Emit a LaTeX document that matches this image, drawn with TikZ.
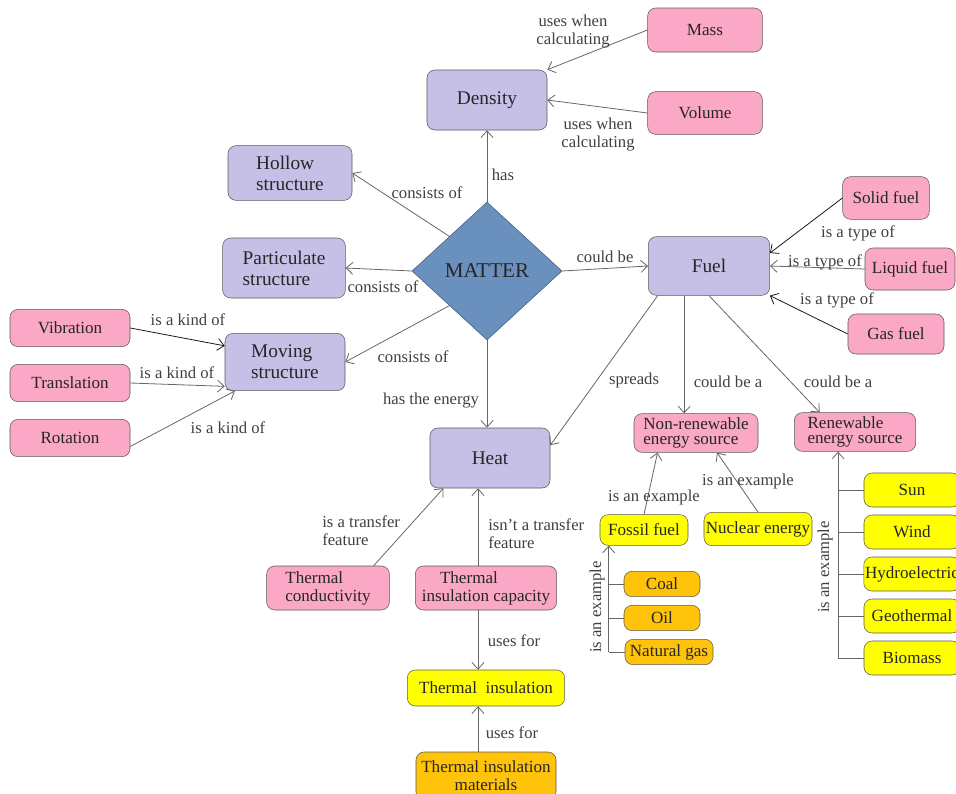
\documentclass[tikz,border=0pt]{standalone}
\usepackage{fontspec}
\setmainfont{Liberation Serif}
\usepackage{xcolor}
\usepackage{tikz}
\usetikzlibrary{arrows.meta,positioning,calc,shapes.geometric}

\definecolor{lavfill}{RGB}{198,192,230}
\definecolor{pinkfill}{RGB}{250,168,198}
\definecolor{yelfill}{RGB}{255,255,0}
\definecolor{orfill}{RGB}{255,195,10}
\definecolor{matfill}{RGB}{106,144,190}
\definecolor{matline}{RGB}{62,90,130}

\begin{document}
\begin{tikzpicture}[x=0.75pt,y=-0.75pt,>={Straight Barb[length=5pt,width=9pt]},
  box/.style={draw=black!65,rounded corners=6pt,text=black!85,inner sep=1pt,
              font=\fontsize{12.8}{13.5}\selectfont},
  lavbox/.style={box,fill=lavfill,font=\fontsize{14.5}{15.75}\selectfont},
  pinkbox/.style={box,fill=pinkfill},
  yelbox/.style={box,fill=yelfill},
  orbox/.style={box,fill=orfill},
  lbl/.style={text=black!75,inner sep=0pt,font=\fontsize{12.5}{13.5}\selectfont},
  link/.style={->,draw=black!60,line width=0.6pt},
  dlink/.style={->,draw=black!90,line width=0.6pt},
  stem/.style={draw=black!60,line width=0.6pt}]
  \useasboundingbox (0,0) rectangle (956,793);
  \clip (0,0) rectangle (956,793);

  % main concept
  \node[diamond,aspect=1.087,draw=matline,fill=matfill,inner sep=0pt,
        minimum width=112.5pt,minimum height=103.5pt,text=black!85,
        font=\fontsize{15.8}{16}\selectfont] (matter) at (487,271) {MATTER};

  \node[lavbox,minimum width=90pt,minimum height=45pt] (dens) at (487,100) {Density};
  \node[pinkbox,minimum width=86pt,minimum height=33pt] (mass) at (705,30) {Mass};
  \node[pinkbox,minimum width=86pt,minimum height=32pt] (volume) at (705,113) {Volume};
  \node[lavbox,align=left,minimum width=93pt,minimum height=41pt] (hollow) at (290,173) {Hollow\\structure};
  \node[lavbox,align=left,minimum width=92pt,minimum height=45pt] (part) at (284,268) {Particulate\\structure};
  \node[lavbox,align=left,minimum width=90pt,minimum height=43pt] (moving) at (285,362) {Moving\\structure};
  \node[lavbox,minimum width=91pt,minimum height=44pt] (fuel) at (709,266) {Fuel};
  \node[lavbox,minimum width=90pt,minimum height=45pt] (heat) at (490,458) {Heat};

  \node[pinkbox,minimum width=65pt,minimum height=32pt] (solid) at (886,198) {Solid fuel};
  \node[pinkbox,minimum width=67.5pt,minimum height=31.5pt] (liquid) at (910,269) {Liquid fuel};
  \node[pinkbox,minimum width=72pt,minimum height=30pt] (gas) at (896,334) {Gas fuel};

  \node[pinkbox,minimum width=90pt,minimum height=28pt] (vib) at (70,328) {Vibration};
  \node[pinkbox,minimum width=90pt,minimum height=28pt] (trans) at (70,383) {Translation};
  \node[pinkbox,minimum width=90pt,minimum height=28pt] (rot) at (70,438) {Rotation};

  \node[pinkbox,align=left,minimum width=93pt,minimum height=29pt,
        font=\fontsize{12.8}{11.25}\selectfont] (nonren) at (696,433) {Non-renewable\\energy source};
  \node[pinkbox,align=left,minimum width=91pt,minimum height=29pt,
        font=\fontsize{12.8}{11.25}\selectfont] (ren) at (855,432) {Renewable\\energy source};

  \node[yelbox,minimum width=66pt,minimum height=23pt] (fossil) at (644,530) {Fossil fuel};
  \node[yelbox,minimum width=81pt,minimum height=25pt] (nuclear) at (758,529) {Nuclear energy};
  \node[orbox,minimum width=57pt,minimum height=19pt] (coal) at (662,584) {Coal};
  \node[orbox,minimum width=57pt,minimum height=19pt] (oil) at (662,618) {Oil};
  \node[orbox,minimum width=66pt,minimum height=19pt] (ngas) at (669,652) {Natural gas};

  \node[yelbox,minimum width=72pt,minimum height=25.5pt] (sun) at (912,490) {Sun};
  \node[yelbox,minimum width=72pt,minimum height=25.5pt] (wind) at (912,532) {Wind};
  \node[yelbox,minimum width=72pt,minimum height=25.5pt] (hydro) at (912,574) {Hydroelectric};
  \node[yelbox,minimum width=72pt,minimum height=25.5pt] (geo) at (912,616) {Geothermal};
  \node[yelbox,minimum width=72pt,minimum height=25.5pt] (bio) at (912,658) {Biomass};

  \node[pinkbox,align=left,minimum width=92pt,minimum height=33pt] (tc) at (328,588) {Thermal\\conductivity};
  \node[pinkbox,align=center,minimum width=106pt,minimum height=33pt] (tic) at (486,588) {Thermal\hspace*{2em}\\insulation capacity};
  \node[yelbox,minimum width=118pt,minimum height=27pt] (ti) at (486,688) {Thermal\ \ insulation};
  \node[orbox,align=center,minimum width=105pt,minimum height=36pt] (tim) at (486,776) {Thermal insulation\\materials};

  % connectors
  \draw[link] (mass.west) -- (dens.north east);
  \draw[link] (volume.west) -- (dens.east);
  \draw[link] (matter.north) -- (dens.south);
  \draw[link] (matter.north west) -- (hollow.east);
  \draw[link] (matter.west) -- (part.east);
  \draw[link] (matter.south west) -- (moving.east);
  \draw[link] (matter.south) -- (matter.south |- heat.north);
  \draw[link] (matter.east) -- (fuel.west);

  \draw[dlink] (solid.west) -- (fuel.12);
  \draw[link] (liquid.west) -- (fuel.east);
  \draw[dlink] (gas.west) -- (fuel.south east);

  \draw[dlink] (vib.east) -- (moving.165);
  \draw[link] (trans.east) -- (moving.202);
  \draw[link] (rot.-8) -- (moving.210);

  \draw[link] (fuel.210) -- (heat.12);
  \draw[link] (fuel.230) -- (fuel.230 |- nonren.north);
  \draw[link] (fuel.south) -- (ren.151);

  \draw[link] (fossil.north) -- (nonren.207);
  \draw[link] (nuclear.north) -- (nonren.-43);

  \coordinate (fosjoin) at ($(fossil.south west)+(9,0)$);
  \draw[link] (ngas.west -| fosjoin) -- (fosjoin);
  \foreach \n in {coal,oil,ngas}
    \draw[stem] (\n.west) -- (\n.west -| fosjoin);

  \coordinate (renjoin) at ($(ren.south west)+(44,0)$);
  \draw[link] (bio.west -| renjoin) -- (renjoin);
  \foreach \n in {sun,wind,hydro,geo,bio}
    \draw[stem] (\n.west) -- (\n.west -| renjoin);

  \coordinate (tix) at (478,0);
  \draw[link] (tc.26) -- (heat.213);
  \draw[link] (tix |- tic.north) -- (tix |- heat.south);
  \draw[link] (tix |- tic.south) -- (tix |- ti.north);
  \draw[link] (tix |- tim.north) -- (tix |- ti.south);

  % connector labels
  \node[lbl,align=center] (lmass) at (573,32) {uses when\\calculating};
  \node[lbl,align=center] (lvol) at (598,135) {uses when\\calculating};
  \node[lbl] (lhas) at (503,175) {has};
  \node[lbl] (lhol) at (427,193) {consists of};
  \node[lbl] (lpart) at (383,287) {consists of};
  \node[lbl] (lmov) at (413,357) {consists of};
  \node[lbl] (lenergy) at (431,401) {has the energy};
  \node[lbl] (lcould) at (605,257) {could be};
  \node[lbl] (lsolid) at (858,233) {is a type of};
  \node[lbl] (lliquid) at (825,262) {is a type of};
  \node[lbl] (lgas) at (837,300) {is a type of};
  \node[lbl] (lvib) at (188,320) {is a kind of};
  \node[lbl] (ltrans) at (177,373) {is a kind of};
  \node[lbl] (lrot) at (228,428) {is a kind of};
  \node[lbl] (lspread) at (634,380) {spreads};
  \node[lbl] (lnonren) at (728,382) {could be a};
  \node[lbl] (lren) at (838,382) {could be a};
  \node[lbl] (lfossil) at (654,497) {is an example};
  \node[lbl] (lnuc) at (748,481) {is an example};
  \node[lbl,rotate=90] (lfosex) at (597,607) {is an example};
  \node[lbl,rotate=90] (lrenex) at (825,567) {is an example};
  \node[lbl,align=left,anchor=west] (ltc) at (322,531) {is a transfer\\feature};
  \node[lbl,align=left,anchor=west] (ltic) at (488,534) {isn't a transfer\\feature};
  \node[lbl] (luse) at (514,641) {uses for};
  \node[lbl] (luse2) at (512,733) {uses for};
\end{tikzpicture}
\end{document}
